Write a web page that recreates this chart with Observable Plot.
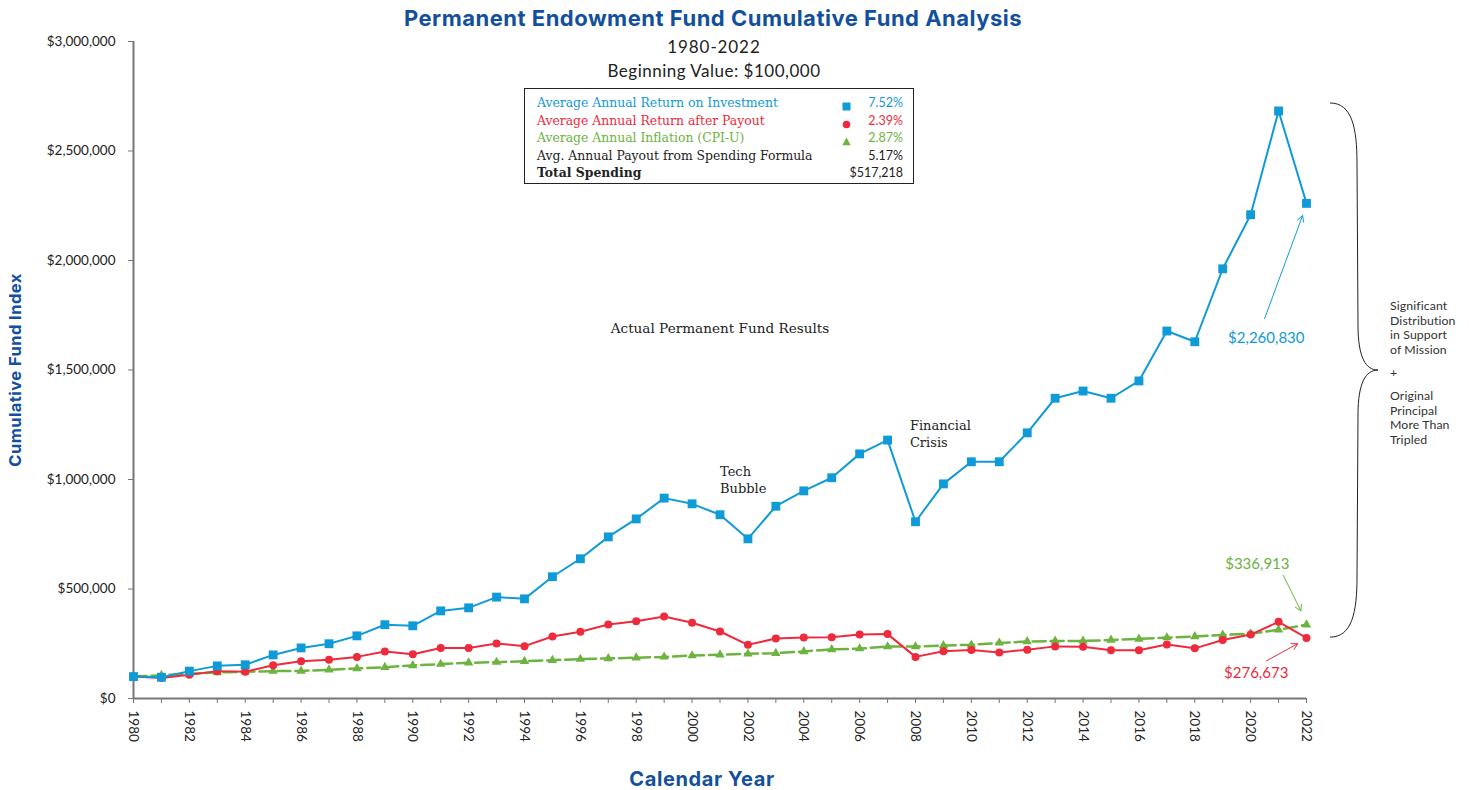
<!DOCTYPE html>
<html><head><meta charset="utf-8">
<script src="https://cdn.jsdelivr.net/npm/d3@7"></script>
<script src="https://cdn.jsdelivr.net/npm/@observablehq/plot@0.6"></script>
<style>
body{margin:0;background:#fff;}
#wrap{position:relative;width:1469px;height:790px;font-family:Lato,sans-serif;color:#222;}
#wrap svg.plot{position:absolute;left:0;top:0;}
.abs{position:absolute;white-space:nowrap;}
.title{font-family:Inter,Lato,sans-serif;font-weight:700;color:#12509e;}
.serif{font-family:"DejaVu Serif",serif;}
#legend{left:524px;top:88px;width:390px;height:96px;border:1px solid #222;box-sizing:border-box;}
#legend .row{position:absolute;left:12px;width:366px;height:17px;font-size:12.4px;line-height:17px;}
#legend .lab{position:absolute;left:0;}
#legend .sym{position:absolute;left:305px;top:4px;}
#legend .val{position:absolute;right:0;font-family:Lato,sans-serif;font-size:12.5px;}
.side{font-size:12.3px;line-height:14.6px;color:#333;letter-spacing:0.1px;}
</style></head><body><div id="wrap"></div>
<script>
const years = [1980,1981,1982,1983,1984,1985,1986,1987,1988,1989,1990,1991,1992,1993,1994,1995,1996,1997,1998,1999,2000,2001,2002,2003,2004,2005,2006,2007,2008,2009,2010,2011,2012,2013,2014,2015,2016,2017,2018,2019,2020,2021,2022];
const investment = [100000,97000,125000,149000,154000,199000,231000,250000,286000,337000,332000,400000,414000,463000,455000,556000,638000,738000,820000,915000,889000,839000,729000,878000,948000,1008000,1117000,1180000,807000,980000,1081000,1081000,1213000,1371000,1404000,1371000,1450000,1678000,1629000,1962000,2209000,2683000,2260830];
const afterPayout = [100000,94000,108000,125000,122000,152000,170000,177000,190000,215000,202000,231000,231000,251000,239000,283000,305000,338000,353000,374000,346000,306000,245000,274000,279000,280000,292000,294000,190000,216000,222000,210000,223000,238000,236000,220000,220000,247000,229000,267000,292000,350000,276673];
const inflation = [100000,106000,113000,119000,122000,125000,126000,131000,137000,143000,151000,157000,163000,166000,170000,175000,180000,183000,186000,190000,196000,200000,204000,207000,215000,224000,228000,237000,237000,242000,245000,254000,260000,263000,263000,267000,272000,278000,283000,290000,296000,314000,336913];
const yTicks = [0,500000,1000000,1500000,2000000,2500000,3000000];
const xTickLabels = [1980,1982,1984,1986,1988,1990,1992,1994,1996,1998,2000,2002,2004,2006,2008,2010,2012,2014,2016,2018,2020,2022];

const titleText = "Permanent Endowment Fund Cumulative Fund Analysis";
const subtitle1 = "1980-2022";
const subtitle2 = "Beginning Value: $100,000";
const yLabel = "Cumulative Fund Index";
const xLabel = "Calendar Year";

const legendLabels = ["Average Annual Return on Investment","Average Annual Return after Payout","Average Annual Inflation (CPI-U)","Avg. Annual Payout from Spending Formula","Total Spending"];
const legendValues = ["7.52%","2.39%","2.87%","5.17%","$517,218"];
const legendSymbols = ["square","circle","triangle",null,null];

const notes = ["Actual Permanent Fund Results","Tech\nBubble","Financial\nCrisis"];
const valueLabels = ["$2,260,830","$336,913","$276,673"];
const sideNote1 = ["Significant","Distribution","in Support","of Mission"];
const sideNote2 = ["Original","Principal","More Than","Tripled"];

const BLUE = "#0f9ad8", RED = "#ee2a3c", GREEN = "#6cb33f", NAVY = "#12509e";

const rows = years.map((year, i) => ({year, investment: investment[i], afterPayout: afterPayout[i], inflation: inflation[i]}));

const centerNote = [{x: 2001.0, y: 1690000, text: notes[0]}];
const sideNotes = [
  {x: 2001.0, y: 1000000, text: notes[1]},
  {x: 2007.8, y: 1212000, text: notes[2]}
];
const valueRows = [
  {x: 2020.56, y: 1644000, text: valueLabels[0], color: BLUE, x1: 2020.5, y1: 1735000, x2: 2021.86, y2: 2205000},
  {x: 2020.24, y: 612000, text: valueLabels[1], color: GREEN, x1: 2021.17, y1: 562000, x2: 2021.8, y2: 400000},
  {x: 2020.2, y: 114000, text: valueLabels[2], color: RED, x1: 2020.57, y1: 172000, x2: 2021.68, y2: 250000}
];

function brace(index, scales) {
  const x0 = scales.x(2022) + 24;
  const yTop = scales.y(2717000), yBot = scales.y(278000);
  const ym = (yTop + yBot) / 2;
  const p = `M${x0},${yTop} C${x0+22},${yTop} ${x0+27},${yTop+25} ${x0+27},${yTop+60} L${x0+28},${ym-45} C${x0+28},${ym-12} ${x0+36},${ym} ${x0+48},${ym} C${x0+36},${ym} ${x0+28},${ym+12} ${x0+28},${ym+45} L${x0+27},${yBot-60} C${x0+27},${yBot-25} ${x0+22},${yBot} ${x0},${yBot}`;
  const path = document.createElementNS("http://www.w3.org/2000/svg", "path");
  path.setAttribute("d", p);
  path.setAttribute("fill", "none");
  path.setAttribute("stroke", "#222");
  path.setAttribute("stroke-width", "1");
  return path;
}

const SERIF = "DejaVu Serif, serif";
const plot = Plot.plot({
  width: 1469, height: 790,
  marginLeft: 133, marginRight: 163, marginTop: 41, marginBottom: 92,
  x: {domain: [1980, 2022], label: null},
  y: {domain: [0, 3000000], label: null},
  style: {fontFamily: "Lato, sans-serif", fontSize: "13.5px", color: "#222", background: "transparent", overflow: "visible"},
  marks: [
    Plot.axisY({ticks: yTicks, tickFormat: d => "$" + d3.format(",")(d), tickSize: 5, tickPadding: 13, stroke: "#777", label: null}),
    Plot.axisX({ticks: years, tickFormat: d => xTickLabels.includes(d) ? String(d) : "", tickRotate: 90, tickSize: 5, tickPadding: 7, stroke: "#777", label: null}),
    Plot.ruleX([1980], {stroke: "#777", strokeWidth: 2}),
    Plot.ruleY([0], {stroke: "#777", strokeWidth: 2}),
    Plot.line(rows, {x: "year", y: "inflation", stroke: GREEN, strokeWidth: 2.5, strokeDasharray: "13,5"}),
    Plot.dot(rows, {x: "year", y: "inflation", symbol: "triangle", fill: GREEN, r: 3.5}),
    Plot.line(rows, {x: "year", y: "afterPayout", stroke: RED, strokeWidth: 2}),
    Plot.dot(rows, {x: "year", y: "afterPayout", symbol: "circle", fill: RED, r: 4}),
    Plot.line(rows, {x: "year", y: "investment", stroke: BLUE, strokeWidth: 2}),
    Plot.dot(rows, {x: "year", y: "investment", symbol: "square", fill: BLUE, r: 5}),
    Plot.text(centerNote, {x: "x", y: "y", text: "text", textAnchor: "middle", fontFamily: SERIF, fontSize: 13.6, fill: "#222"}),
    Plot.text(sideNotes, {x: "x", y: "y", text: "text", textAnchor: "start", fontFamily: SERIF, fontSize: 13, lineHeight: 1.3, fill: "#222"}),
    Plot.arrow(valueRows, {x1: "x1", y1: "y1", x2: "x2", y2: "y2", stroke: "color", strokeWidth: 1, headLength: 10}),
    Plot.text(valueRows, {x: "x", y: "y", text: "text", fill: "color", fontSize: 15, fontFamily: "Lato, sans-serif"}),
    brace
  ]
});
plot.classList.add("plot");
const wrap = document.getElementById("wrap");
wrap.appendChild(plot);

function addDiv(cls, style, html) {
  const d = document.createElement("div");
  d.className = "abs " + cls;
  d.setAttribute("style", style);
  d.innerHTML = html;
  wrap.appendChild(d);
  return d;
}
addDiv("title", "left:0;width:1426px;text-align:center;top:5px;font-size:22px;letter-spacing:0.5px;", titleText);
addDiv("", "left:0;width:1428px;text-align:center;top:36px;font-size:17px;letter-spacing:0.9px;", subtitle1);
addDiv("", "left:0;width:1428px;text-align:center;top:60px;font-size:17px;letter-spacing:0.5px;", subtitle2);
addDiv("title", "left:-135px;top:360px;width:300px;height:20px;line-height:20px;text-align:center;font-size:16.6px;letter-spacing:0.4px;transform:rotate(-90deg);", yLabel);
addDiv("title", "left:0;width:1404px;text-align:center;top:767px;font-size:20px;letter-spacing:0.6px;", xLabel);

const legend = addDiv("", "", "");
legend.id = "legend";
const legendColors = [BLUE, RED, GREEN, "#222", "#222"];
const symSvg = {
  square: c => `<svg width="9" height="9"><rect x="0.5" y="0.5" width="8" height="8" fill="${c}"/></svg>`,
  circle: c => `<svg width="9" height="9"><circle cx="4.5" cy="4.5" r="3.8" fill="${c}"/></svg>`,
  triangle: c => `<svg width="9" height="9"><path d="M4.5,0.5 L8.7,8.3 L0.3,8.3 Z" fill="${c}"/></svg>`
};
legendLabels.forEach((lab, i) => {
  const r = document.createElement("div");
  r.className = "row";
  r.style.top = (5 + i * 17.6) + "px";
  r.style.color = legendColors[i];
  const bold = i === 4 ? "font-weight:700;" : "";
  r.innerHTML = `<span class="lab serif" style="${bold}">${lab}</span>` +
    (legendSymbols[i] ? `<span class="sym">${symSvg[legendSymbols[i]](legendColors[i])}</span>` : "") +
    `<span class="val">${legendValues[i]}</span>`;
  legend.appendChild(r);
});

addDiv("side", "left:1390px;top:299px;", sideNote1.join("<br>"));
addDiv("side", "left:1390px;top:366px;", "+");
addDiv("side", "left:1390px;top:389px;", sideNote2.join("<br>"));
</script></body></html>
